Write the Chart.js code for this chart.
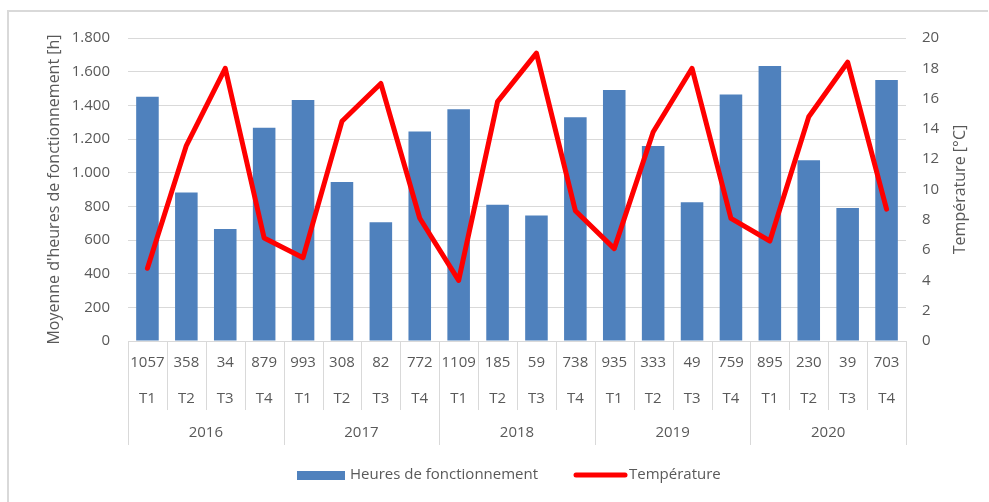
<!DOCTYPE html>
<html lang="fr">
<head>
<meta charset="utf-8">
<title>Heures de fonctionnement et température</title>
<script src="https://cdn.jsdelivr.net/npm/chart.js@4.4.1/dist/chart.umd.min.js"></script>
<style>
    html, body { margin: 0; padding: 0; background: #fff; }
    .wrap { position: relative; width: 989px; height: 502px; overflow: hidden; }
    .frame {
        position: absolute; left: 7px; top: 10px; right: 1px; bottom: -5px;
        border-top: 2px solid #d9d9d9; border-left: 2px solid #d9d9d9;
        pointer-events: none;
    }
    canvas { position: absolute; left: 0; top: 0; }
</style>
</head>
<body>
<div class="wrap">
    <canvas id="chart" width="989" height="502"></canvas>
    <div class="frame"></div>
</div>
<script>
// Data
const years = ['2016', '2017', '2018', '2019', '2020'];
const quarters = ['T1', 'T2', 'T3', 'T4'];
// numbers printed in the first row of the category axis
const countLabels = [1057, 358, 34, 879, 993, 308, 82, 772, 1109, 185, 59, 738, 935, 333, 49, 759, 895, 230, 39, 703];
const hours = [1451, 882, 665, 1267, 1431, 944, 705, 1245, 1377, 810, 745, 1329, 1491, 1158, 824, 1465, 1633, 1074, 790, 1551];
const temps = [4.8, 12.9, 18.0, 6.8, 5.5, 14.5, 17.0, 8.1, 4.0, 15.8, 19.0, 8.6, 6.1, 13.8, 18.0, 8.1, 6.6, 14.8, 18.4, 8.7];
const hoursTicks = [0, 1800, 200];   // min, max, step
const tempTicks = [0, 20, 2];

const FONT = '"Open Sans", "Noto Sans", sans-serif';
const TEXT = '#595959';
const GRID = '#d9d9d9';
const BLUE = '#4f81bd';
const RED = '#ff0000';

const labels = [];
years.forEach(y => quarters.forEach(q => labels.push(y + ' ' + q)));

// Draws the 3-row category table, the right axis title and the legend
const extras = {
    id: 'extras',
    afterDraw: function (chart) {
        const ctx = chart.ctx;
        const x = chart.scales.x;
        const area = chart.chartArea;
        const n = labels.length;
        const band = (x.right - x.left) / n;
        const top = area.bottom;

        ctx.save();
        ctx.strokeStyle = GRID;
        ctx.lineWidth = 1;
        for (let i = 0; i <= n; i++) {
            const px = Math.round(x.left + i * band) + 0.5;
            const isYear = i % quarters.length === 0;
            ctx.beginPath();
            ctx.moveTo(px, top);
            ctx.lineTo(px, top + (isYear ? 104 : 69));
            ctx.stroke();
        }

        ctx.fillStyle = TEXT;
        ctx.font = '15px ' + FONT;
        ctx.textAlign = 'center';
        ctx.textBaseline = 'middle';
        for (let i = 0; i < n; i++) {
            const cx = x.getPixelForValue(i);
            ctx.fillText(String(countLabels[i]), cx, top + 22);
            ctx.fillText(quarters[i % quarters.length], cx, top + 58);
        }
        years.forEach(function (y, j) {
            const cx = x.left + (j * quarters.length + quarters.length / 2) * band;
            ctx.fillText(y, cx, top + 92);
        });

        // right axis title, reading bottom to top
        const r = chart.scales.y1;
        ctx.save();
        ctx.translate(960, (area.top + area.bottom) / 2);
        ctx.rotate(-Math.PI / 2);
        ctx.font = '16px ' + FONT;
        ctx.fillText('Température [°C]', 0, 0);
        ctx.restore();

        // legend
        const ds = chart.data.datasets;
        const ly = 475;
        ctx.font = '15px ' + FONT;
        ctx.textAlign = 'left';
        ctx.fillStyle = ds[0].backgroundColor;
        ctx.fillRect(297, ly - 4, 48, 9);
        ctx.fillStyle = TEXT;
        ctx.fillText(ds[0].label, 350, ly);

        ctx.strokeStyle = ds[1].borderColor;
        ctx.lineWidth = 5;
        ctx.lineCap = 'round';
        ctx.beginPath();
        ctx.moveTo(576, ly);
        ctx.lineTo(625, ly);
        ctx.stroke();
        ctx.fillText(ds[1].label, 629, ly);
        ctx.restore();
    }
};

new Chart(document.getElementById('chart'), {
    data: {
        labels: labels,
        datasets: [
            {
                type: 'bar',
                label: 'Heures de fonctionnement',
                data: hours,
                backgroundColor: BLUE,
                yAxisID: 'y',
                order: 1,
                categoryPercentage: 1,
                barPercentage: 0.58
            },
            {
                type: 'line',
                label: 'Température',
                data: temps,
                borderColor: RED,
                backgroundColor: RED,
                borderWidth: 5,
                pointRadius: 0,
                borderJoinStyle: 'round',
                borderCapStyle: 'round',
                tension: 0,
                yAxisID: 'y1',
                order: 0
            }
        ]
    },
    options: {
        responsive: false,
        animation: false,
        devicePixelRatio: 1,
        layout: { padding: { top: 38, bottom: 51, left: 0, right: 0 } },
        plugins: {
            legend: { display: false },
            tooltip: { enabled: false }
        },
        scales: {
            x: {
                type: 'category',
                grid: { display: false },
                border: { display: false },
                ticks: { display: false },
                afterFit: function (axis) { axis.height = 110; }
            },
            y: {
                position: 'left',
                min: hoursTicks[0],
                max: hoursTicks[1],
                grid: { color: GRID, lineWidth: 1, drawTicks: false },
                border: { display: false },
                ticks: {
                    stepSize: hoursTicks[2],
                    padding: 18,
                    color: TEXT,
                    font: { family: FONT, size: 15 },
                    callback: v => v.toLocaleString('de-DE')
                },
                title: {
                    display: true,
                    text: "Moyenne d'heures de fonctionnement [h]",
                    color: TEXT,
                    font: { family: FONT, size: 16 },
                    padding: { top: 45, bottom: 0 }
                },
                afterFit: function (axis) { axis.width = 128; }
            },
            y1: {
                position: 'right',
                min: tempTicks[0],
                max: tempTicks[1],
                grid: { display: false, drawTicks: false },
                border: { display: false },
                ticks: {
                    stepSize: tempTicks[2],
                    padding: 16,
                    color: TEXT,
                    font: { family: FONT, size: 15 }
                },
                afterFit: function (axis) { axis.width = 83; }
            }
        }
    },
    plugins: [extras]
});
</script>
</body>
</html>
